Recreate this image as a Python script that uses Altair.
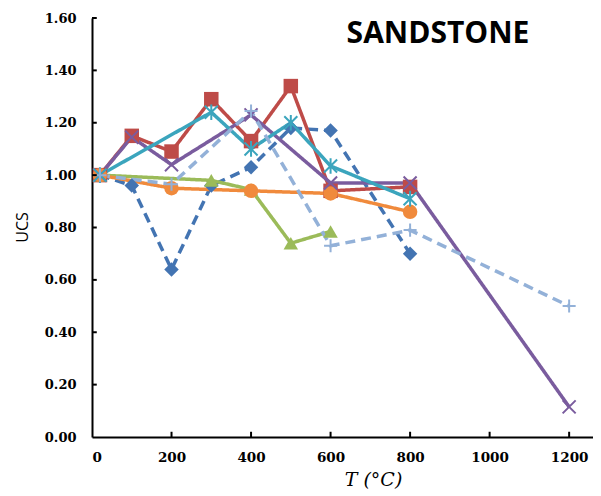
import altair as alt
import pandas as pd

# ---- data ----
series_names = ["S1", "S2", "S3", "S4", "S5", "S6", "S7"]
s1_T = [20, 100, 200, 300, 400, 500, 600, 800]
s1_U = [1.00, 0.96, 0.64, 0.96, 1.03, 1.18, 1.17, 0.70]
s2_T = [20, 100, 200, 300, 400, 500, 600, 800]
s2_U = [1.00, 1.15, 1.09, 1.29, 1.13, 1.34, 0.94, 0.955]
s3_T = [20, 300, 400, 500, 600]
s3_U = [1.00, 0.98, 0.945, 0.74, 0.785]
s4_T = [20, 200, 400, 600, 800]
s4_U = [1.00, 0.95, 0.94, 0.93, 0.86]
s5_T = [20, 100, 200, 400, 600, 800, 1200]
s5_U = [1.00, 1.145, 1.04, 1.23, 0.97, 0.97, 0.115]
s6_T = [20, 300, 400, 500, 600, 800]
s6_U = [1.00, 1.24, 1.10, 1.20, 1.035, 0.91]
s7_T = [20, 200, 400, 600, 800, 1200]
s7_U = [1.00, 0.965, 1.245, 0.73, 0.79, 0.50]

colors = ["#4374B2", "#BE4B48", "#9BBB59", "#F08A3C", "#7A5C9E", "#3BA5BD", "#93B1D8"]
dashes = ["dashed", "solid", "solid", "solid", "solid", "solid", "dashed"]
x_ticks = [0, 200, 400, 600, 800, 1000, 1200]
y_ticks = [0.0, 0.2, 0.4, 0.6, 0.8, 1.0, 1.2, 1.4, 1.6]
title_text = ["SANDSTONE"]

XS = "M-1,-1L1,1M-1,1L1,-1"
STAR = "M-1,-1L1,1M-1,1L1,-1M0,-1.2L0,1.2"
PLUS = "M-1,0L1,0M0,-1L0,1"
markers = ["diamond", "square", "triangle-up", "circle", XS, STAR, PLUS]
marker_filled = [True, True, True, True, False, False, False]

all_T = [s1_T, s2_T, s3_T, s4_T, s5_T, s6_T, s7_T]
all_U = [s1_U, s2_U, s3_U, s4_U, s5_U, s6_U, s7_U]

rows = []
for name, T, U, d in zip(series_names, all_T, all_U, dashes):
    for t, u in zip(T, U):
        rows.append({"series": name, "T": t, "UCS": u, "dash": d})
df = pd.DataFrame(rows)

xscale = alt.Scale(domain=[0, 1260], nice=False, zero=False)
yscale = alt.Scale(domain=[0, 1.6], nice=False)
cscale = alt.Scale(domain=series_names, range=colors)

X = alt.X("T:Q", scale=xscale,
          axis=alt.Axis(values=x_ticks, format="d", title="T (°C)", grid=False,
                        ticks=False, domainColor="black", domainWidth=2,
                        labelFont="DejaVu Serif", labelFontWeight="bold", labelFontSize=13.5,
                        labelColor="black", labelPadding=13,
                        titleFont="DejaVu Serif", titleFontStyle="italic",
                        titleFontWeight="normal", titleFontSize=19, titleColor="black",
                        titleX=281, titleY=48, titleBaseline="alphabetic", titleAlign="center"))
Y = alt.Y("UCS:Q", scale=yscale,
          axis=alt.Axis(values=y_ticks, format=".2f", title="UCS", grid=False,
                        ticks=False, domainColor="black", domainWidth=2,
                        labelFont="DejaVu Serif", labelFontWeight="bold", labelFontSize=13,
                        labelColor="black", labelPadding=16,
                        titleFont="Open Sans", titleFontWeight="normal", titleFontSize=16,
                        titleColor="black", titleAngle=270,
                        titleX=-65, titleY=209, titleBaseline="alphabetic", titleAlign="center"))

base = alt.Chart(df)

lines = base.mark_line(strokeWidth=3.5).encode(
    x=X, y=Y,
    color=alt.Color("series:N", scale=cscale, legend=None),
    strokeDash=alt.StrokeDash("dash:N", scale=alt.Scale(domain=["solid", "dashed"],
                                                         range=[[1, 0], [10, 6]]), legend=None),
    detail="series:N",
)

point_layers = []
for name, col, shp, fil in zip(series_names, colors, markers, marker_filled):
    if fil:
        props = dict(filled=True, opacity=1, size=210, color=col, shape=shp)
    else:
        props = dict(filled=False, opacity=1, size=170, strokeWidth=2, color=col, shape=shp)
    layer = base.transform_filter(alt.datum.series == name).mark_point(**props).encode(
        x="T:Q", y="UCS:Q")
    point_layers.append(layer)

# inward tick marks
ytick_df = pd.DataFrame({"v": y_ticks[1:]})
xtick_df = pd.DataFrame({"v": x_ticks[1:]})
ytk = alt.Chart(ytick_df).mark_rule(color="black", strokeWidth=2).encode(
    y="v:Q", x=alt.datum(0), x2=alt.datum(12))
xtk = alt.Chart(xtick_df).mark_rule(color="black", strokeWidth=2).encode(
    x="v:Q", y=alt.datum(0), y2=alt.datum(0.02))

title_layer = alt.Chart(pd.DataFrame({"t": title_text})).mark_text(
    font="Open Sans", fontSize=30, fontWeight="bold", color="black",
    align="center", baseline="alphabetic"
).encode(text="t:N", x=alt.value(346), y=alt.value(25))

chart = alt.layer(lines, *point_layers, ytk, xtk, title_layer).properties(
    width=501, height=419,
    autosize=alt.AutoSizeParams(type="none"),
    padding={"left": 84, "top": 10, "right": 0, "bottom": 60},
).configure_view(stroke=None)

chart.save("out.html", embed_options={"renderer": "svg", "actions": False})
